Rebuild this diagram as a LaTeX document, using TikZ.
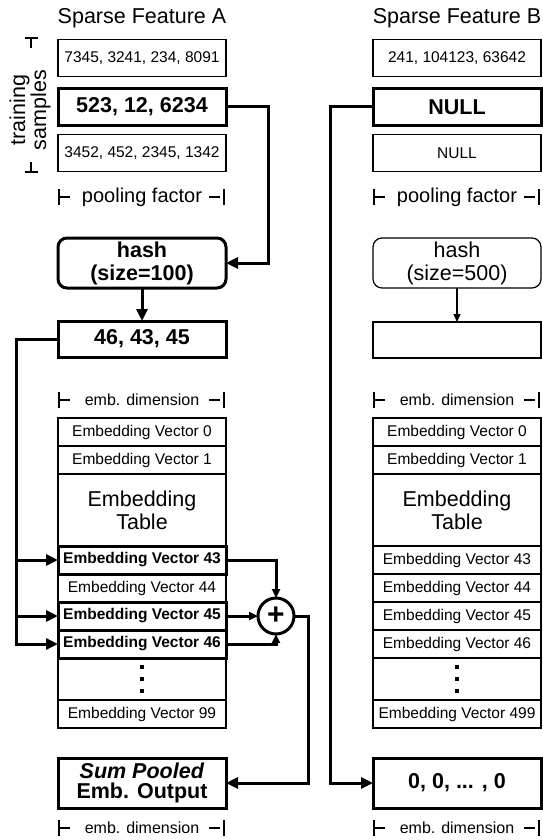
\documentclass[tikz,border=0pt]{standalone}
\usepackage{fontspec}
\setmainfont{Liberation Sans}
\usetikzlibrary{arrows.meta,positioning}
\newcommand\ftitle{\fontsize{21.5}{23}\selectfont}
\newcommand\fpool{\fontsize{20}{22}\selectfont}
\newcommand\fbig{\fontsize{21.5}{23}\selectfont}
\newcommand\fnum{\fontsize{15.5}{17}\selectfont}
\newcommand\fdim{\fontsize{16}{17}\selectfont}
% label with a span bar: name, x, y, text
\newcommand\spanbar[4]{%
  \node[spanlbl] (#1) at (#2,#3+5) {#4};
  \draw[spanline] (#2-83,#3-8) -- (#2-83,#3+8) (#2-83,#3) -- (#2-72,#3)
    (#2+67,#3) -- (#2+78,#3) (#2+82,#3-8) -- (#2+82,#3+8);}

\begin{document}
\begin{tikzpicture}[
x=1pt, y=-1pt,
box/.style={draw, line width=1.2pt, minimum width=168pt, minimum height=37pt,
  inner sep=0pt, outer sep=0pt, font=\fnum},
hotbox/.style={box, line width=3pt, font=\fbig\bfseries},
hashbox/.style={box, rounded corners=9pt, minimum height=50pt, align=center, font=\fbig},
cell/.style={box, minimum height=28pt},
hotcell/.style={cell, line width=3pt, font=\fnum\bfseries},
bigcell/.style={cell, minimum height=72pt, align=center, font=\fbig},
dotcell/.style={cell, minimum height=42pt},
title/.style={font=\ftitle, anchor=base},
spanlbl/.style={anchor=base, inner sep=0pt},
spanline/.style={line width=1.5pt},
link/.style={line width=3pt, -{Triangle[length=12pt,width=11pt]}},
slink/.style={line width=3pt, -{Triangle[length=9pt,width=8pt]}},
thinlink/.style={line width=1.2pt, -{Triangle[length=8pt,width=7pt]}}]
\useasboundingbox (0,0) rectangle (543,840);

\node[title] (titleA) at (142,24) {Sparse Feature A};
\node[title] (titleB) at (457,24) {Sparse Feature B};

% input samples
\node[box] (sa1) at (142,58) {7345, 3241, 234, 8091};
\node[hotbox] (sa2) at (142,107) {523, 12, 6234};
\node[box] (sa3) at (142,153) {3452, 452, 2345, 1342};
\node[box] (sb1) at (457,58) {241, 104123, 63642};
\node[hotbox] (sb2) at (457,107) {NULL};
\node[box] (sb3) at (457,153) {NULL};

\node[rotate=90, align=center, font=\fontsize{21.5}{20}\selectfont] (samples) at (30,110) {training\\samples};
\draw[spanline] (25,38) -- (38,38) (31,38) -- (31,48) (31,162) -- (31,172) (25,172) -- (38,172);

\spanbar{poolA}{142}{197}{\fpool pooling factor}
\spanbar{poolB}{457}{197}{\fpool pooling factor}

% hashing
\node[hashbox, line width=3pt, font=\fbig\bfseries] (hashA) at (142,263) {hash\\(size=100)};
\node[hashbox] (hashB) at (457,263) {hash\\(size=500)};
\node[hotbox, minimum height=36pt] (idxA) at (142,339) {46, 43, 45};
\node[box, minimum height=36pt] (idxB) at (457,340) {};

\spanbar{dimA}{142}{400}{\fdim emb. dimension}
\spanbar{dimB}{457}{400}{\fdim emb. dimension}

% embedding table A
\node[cell] (a0) at (142,432) {Embedding Vector 0};
\node[cell, below=0pt of a0] (a1) {Embedding Vector 1};
\node[bigcell, below=0pt of a1] (atab) {Embedding\\Table};
\node[hotcell, below=0pt of atab] (a43) {Embedding Vector 43};
\node[cell, below=0pt of a43] (a44) {Embedding Vector 44};
\node[hotcell, below=0pt of a44] (a45) {Embedding Vector 45};
\node[hotcell, below=0pt of a45] (a46) {Embedding Vector 46};
\node[dotcell, below=0pt of a46] (adots) {};
\node[cell, below=0pt of adots] (a99) {Embedding Vector 99};

% embedding table B
\node[cell] (b0) at (457,432) {Embedding Vector 0};
\node[cell, below=0pt of b0] (b1) {Embedding Vector 1};
\node[bigcell, below=0pt of b1] (btab) {Embedding\\Table};
\node[cell, below=0pt of btab] (b43) {Embedding Vector 43};
\node[cell, below=0pt of b43] (b44) {Embedding Vector 44};
\node[cell, below=0pt of b44] (b45) {Embedding Vector 45};
\node[cell, below=0pt of b45] (b46) {Embedding Vector 46};
\node[dotcell, below=0pt of b46] (bdots) {};
\node[cell, below=0pt of bdots] (b499) {Embedding Vector 499};

\foreach \d in {-12,0,12} {
  \fill ([yshift=\d pt]adots.center) ++(-2,-2) rectangle ++(4,4);
  \fill ([yshift=\d pt]bdots.center) ++(-2,-2) rectangle ++(4,4);
}

\node[circle, draw, line width=3pt, minimum size=36pt, inner sep=0pt, outer sep=0pt,
  right=32pt of a45, font=\fontsize{30}{30}\selectfont\bfseries] (sum) {+};

% outputs
\node[hotbox, minimum height=50pt, align=center, font=\fontsize{21.5}{20}\selectfont\bfseries]
  (outA) at (142,783) {\textit{Sum Pooled}\\Emb. Output};
\node[hotbox, minimum height=50pt] (outB) at (457,783) {0, 0, ... , 0};

\spanbar{dimoutA}{142}{828}{\fdim emb. dimension}
\spanbar{dimoutB}{457}{828}{\fdim emb. dimension}

% connectors
\draw[link] (sa2.east) -- ++(42,0) |- (hashA.east);
\draw[link] (hashA) -- (idxA);
\draw[thinlink] (hashB) -- (idxB);
\draw[link] (idxA.west) -| ([xshift=-42pt]a46.west) -- (a46.west);
\draw[link] ([xshift=-42pt]a43.west) -- (a43.west);
\draw[link] ([xshift=-42pt]a45.west) -- (a45.west);
\draw[slink] (a43.east) -| (sum.north);
\draw[slink] (a45.east) -- (sum.west);
\draw[slink] (a46.east) -| (sum.south);
\draw[link] (sum.east) -- ++(14,0) |- (outA.east);
\draw[link] (sb2.west) -- ++(-43,0) |- (outB.west);
\end{tikzpicture}
\end{document}
